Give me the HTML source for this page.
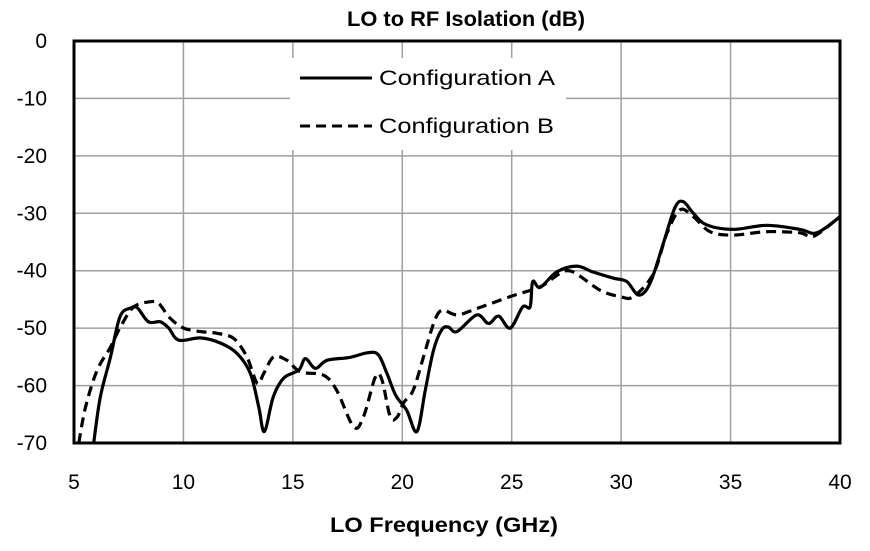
<!DOCTYPE html>
<html><head><meta charset="utf-8"><style>
body{margin:0;background:#fff;width:870px;height:551px;overflow:hidden}
svg{display:block;font-family:"Liberation Sans",sans-serif}
</style></head><body>
<svg id="chart" width="870" height="551" viewBox="0 0 870 551">
<text x="347" y="26" font-size="21" font-weight="bold" textLength="238" lengthAdjust="spacingAndGlyphs">LO to RF Isolation (dB)</text>
<g id="grid"></g>
<g id="series"></g>
<rect x="74" y="41" width="766" height="402" fill="none" stroke="#000" stroke-width="3"/>
<g id="ticks"></g>
<text x="330" y="532" font-size="21" font-weight="bold" textLength="228" lengthAdjust="spacingAndGlyphs">LO Frequency  (GHz)</text>
<g>
<rect x="290" y="58" width="276" height="92" fill="#fff"/>
<line x1="300" y1="78" x2="372" y2="78" stroke="#000" stroke-width="3"/>
<text x="379" y="85" font-size="21" textLength="176" lengthAdjust="spacingAndGlyphs">Configuration A</text>
<line x1="300" y1="126" x2="372" y2="126" stroke="#000" stroke-width="3" stroke-dasharray="10,6"/>
<text x="379" y="133" font-size="21" textLength="175" lengthAdjust="spacingAndGlyphs">Configuration B</text>
</g>
</svg>
<script>
const xTicks=[5,10,15,20,25,30,35,40];
const yTicks=[0,-10,-20,-30,-40,-50,-60,-70];
const freqA=[5.9,6.2,6.67,7.1,7.58,7.9,8.4,8.95,9.33,9.79,10.78,11.7,12.45,13.06,13.44,13.7,14.1,14.58,15.27,15.57,16.03,16.56,17.6,18.4,18.9,19.3,19.7,20.2,20.67,21.05,21.43,21.8,22.1,22.5,23.4,23.94,24.4,24.93,25.5,25.84,25.96,26.3,27.06,27.97,28.7,29.65,30.26,30.8,31.32,31.93,32.47,32.85,33.3,33.9,35.1,36.65,38.17,38.94,40];
const valsA=[-70,-62,-55,-48,-46.5,-46.5,-48.9,-48.9,-50,-52.1,-51.7,-52.6,-54.4,-57.9,-63.7,-68,-62,-58.7,-57.3,-55.3,-57,-55.6,-55.1,-54.3,-54.6,-57.9,-61.7,-64.3,-68,-60.8,-53.8,-50.3,-49.8,-50.6,-47.7,-49.2,-47.9,-50,-46.3,-46.3,-41.9,-42.9,-40.2,-39.2,-40.2,-41.3,-41.9,-44.25,-42.2,-35.2,-28.9,-28,-30,-32,-32.8,-32.1,-32.8,-33.4,-30.6];
const freqB=[5.22,5.53,6.06,6.67,7.12,7.73,8.5,8.87,9.4,10.01,10.78,11.54,12.3,12.9,13.37,13.67,14.12,14.73,15.34,16.4,17.0,17.78,18.23,18.77,19.07,19.45,19.76,20.06,20.5,20.97,21.43,21.8,22.5,23.4,24.93,26.3,27.2,27.8,29.04,29.95,30.56,31.48,32.09,32.69,33.3,34.06,35.1,36.65,38.17,38.8,40];
const valsB=[-70,-63.7,-57.3,-53.3,-49.8,-46.3,-45.4,-45.7,-48.3,-50,-50.6,-50.9,-51.8,-55,-59.6,-57.9,-55,-55.6,-57.6,-58.2,-60.8,-67.2,-65.4,-58.5,-59,-65.4,-65.5,-63,-60.8,-55,-49.2,-46.9,-47.7,-46.6,-44.5,-42.8,-40.5,-40.2,-43.4,-44.5,-44.5,-40.5,-33.5,-29.4,-30.6,-33.2,-33.8,-33.2,-33.4,-34,-30.6];
const NS='http://www.w3.org/2000/svg';
const X=v=>74+(v-5)*(766/35);
const Y=v=>41-v*(402/70);
function mk(t,a,p){const e=document.createElementNS(NS,t);for(const k in a)e.setAttribute(k,a[k]);p.appendChild(e);return e;}
const grid=document.getElementById('grid'),ticks=document.getElementById('ticks'),ser=document.getElementById('series');
xTicks.forEach(t=>{
 const l=mk('line',{x1:X(t),x2:X(t),y1:41,y2:443,stroke:'#a0a0a0','stroke-width':1.5},grid);
 
 
 const tx=mk('text',{x:X(t),y:489,'text-anchor':'middle','font-size':21},ticks);
 tx.textContent=t;
 
 
});
yTicks.forEach(t=>{
 const l=mk('line',{x1:74,x2:840,y1:Y(t),y2:Y(t),stroke:'#a0a0a0','stroke-width':1.5},grid);
 
 
 const tx=mk('text',{x:47,y:Y(t)+7,'text-anchor':'end','font-size':21},ticks);
 tx.textContent=t;
 
 
});
function path(fx,vy){
 const p=fx.map((f,i)=>[X(f),Y(vy[i])]);
 let d='M'+p[0][0].toFixed(1)+','+p[0][1].toFixed(1);
 for(let i=0;i<p.length-1;i++){
  const p0=p[Math.max(0,i-1)],p1=p[i],p2=p[i+1],p3=p[Math.min(p.length-1,i+2)];
  const c1=[p1[0]+(p2[0]-p0[0])/6,p1[1]+(p2[1]-p0[1])/6];
  const c2=[p2[0]-(p3[0]-p1[0])/6,p2[1]-(p3[1]-p1[1])/6];
  d+='C'+c1.map(v=>v.toFixed(1)).join(',')+' '+c2.map(v=>v.toFixed(1)).join(',')+' '+p2.map(v=>v.toFixed(1)).join(',');
 }
 return d;
}
const pa=mk('path',{d:path(freqA,valsA),fill:'none',stroke:'#000','stroke-width':3.2,'stroke-linejoin':'round'},ser);


const pb=mk('path',{d:path(freqB,valsB),fill:'none',stroke:'#000','stroke-width':3.2,'stroke-dasharray':'10,6','stroke-linejoin':'round'},ser);


</script>
</body></html>
